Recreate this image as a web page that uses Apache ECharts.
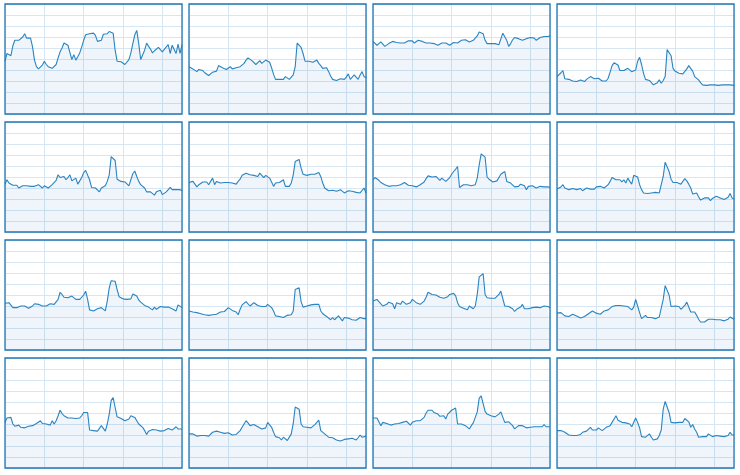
<!DOCTYPE html>
<html>
<head>
<meta charset="utf-8">
<script src="https://cdn.jsdelivr.net/npm/echarts@6/dist/echarts.min.js"></script>
<style>
html,body{margin:0;padding:0;background:#fff;}
#chart{width:740px;height:475px;}
</style>
</head>
<body>
<div id="chart"></div>
<script>
var p1 = [48,55,54,53,62,67,67.5,67,67.5,70,73,69,67.5,69,61,49,43,41,42,44.5,48,45,43,41.5,41.5,42,45,51,56.5,60,64.5,63,62.5,62.5,49.5,54,49,52,55.5,61,67,72,73,73,74,73.5,71.5,66,65,67,72.5,73,73,75,76.5,73.5,58,48,49.5,47.5,46,45,46.5,49.5,55.5,64,72,76,64,49.5,49.5,58,64.5,61.5,59,55.5,57.5,58.5,60.5,62,56.5,58,61,63,55,62.5,61,55,63.5,55,63];
var p2 = [43,41.5,41,42,38.5,40.5,42,39.5,37.5,36.5,35,36.5,38,37.5,39,44,44,42,40.5,40.5,42,43,41,41.5,42,42,43,43.5,46,49,51,49.5,48.5,49,45,46,48.5,46,47.5,49,49,47,42,36,31.5,31.5,31.5,33,31.5,34,33,31.5,33,35.5,43,64.5,64,60.5,55,48,48.5,48,47.5,47,48.5,49,46,44,41.5,41.5,42,38.5,34.5,31.5,31,30.5,31.5,32,31.5,31.5,33.5,36.5,31.5,33.5,35.5,37,31.5,35.5,38.5,34,33];
var p3 = [66,64.5,62.5,64,65.5,64.5,61.5,63,64,65,66,67,65,64.5,64.5,65,64.5,65,66.5,67.5,66.5,64.5,65.5,67,66.5,66,65.5,64.5,64.5,64.5,64,64,63,62.5,64,64.5,64.5,64.5,63,62.5,64,65,66,64.5,65.5,67,67.5,67.5,68.5,65.5,64.5,67,67.5,71,74.5,74,73,67,64,64,64,64,64,64,63,64.5,73.5,74,67,61.5,64,67.5,69.5,69,68.5,68,67,68,68.5,69,69.5,69.5,69,67,68.5,69.5,70.5,70.5,70.5,70.5,71];
var p4 = [34,35.5,37.5,39.5,32,31.5,31.5,31,30,29.5,29.5,29.5,31,30.5,29.5,31.5,33,34,33.5,32,32,32.5,31.5,30,29.5,30,32.5,38,44,46.5,46.5,44.5,39.5,39.5,39.5,39.5,41.5,43,38.5,37.5,40,48,51.5,45,37,31.5,31,30.5,28.5,26.5,25.5,28.5,31,28,30.5,34,58.5,57,53,41.5,39,37.5,37,37,36.5,36,41,44,44,39,34,32.5,31,28.5,26.5,26,26,25,26.5,26,26.5,26.5,26,26,26.5,26.5,26.5,26,26.5,27.5,26];
var p5 = [43.5,47.5,44.5,43,42.5,43,42.5,40,41,42,43,42,40.5,41.5,40.5,41.5,40.5,43,44.5,40,42,42,40,41.5,43,43.5,47,52,49.5,49.5,50.5,47.5,49.5,52,46.5,47.5,49,43.5,46.5,49.5,54,56,55,47.5,40.5,41,40,38.5,36.5,40,41.5,42,46,52,68.5,67,65,48,47.5,46,44.5,45.5,45,42,47.5,53,55.5,50.5,46,43,41.5,40,36.5,36.5,36.5,36.5,33.5,36.5,38,38,34,33.5,36.5,38.5,40.5,38.5,39.5,38.5,39,38.5,37.5];
var p6 = [45,44.5,46,47.5,41,43,44.5,45.5,46,45.5,43,46,49,43,46,46.5,44.5,46,45,43.5,45,45,44.5,44,43.5,46,48,51.5,52,53.5,55,52,53.5,51.5,52.5,50.5,53.5,52,49.5,51.5,52,49,45.5,41.5,44.5,43,45,43.5,47.5,41.5,41.5,41.5,44.5,52,64,65,66,58,52.5,51.5,51.5,52.5,52.5,52.5,52.5,52.5,54,50.5,44.5,40,40.5,37.5,38,38,37.5,37,36.5,38.5,39.5,35.5,37,37.5,39,37,36.5,36,36,35.5,36,40,35.5];
var p7 = [47.5,49.5,49.5,47,45,43.5,43,42,41.5,42,42,42,42,42,43,44.5,45,43.5,42.5,41.5,42,43,41,42.5,43,43.5,45.5,48.5,51,51,50,48.5,50.5,52,47,49,49.5,46,44.5,49.5,52.5,55,57,59.5,40.5,42,43,43,43,43.5,42,41,43,49,61,71,70.5,68,50,48,46.5,45.5,47,46.5,47,52.5,54,55,46,45,44.5,43,41,39.5,41.5,43.5,43.5,42,38.5,41.5,42.5,42,40.5,40,40.5,41.5,41,41,41.5,41,40.5];
var p8 = [39,40,41,43,40,38.5,38.5,39,39.5,39,38.5,39,39.5,37.5,39,40,40,39,38,39,41,42.5,41.5,40.5,40,40,43,46,49.5,49,47.5,46,47.5,45.5,47.5,44.5,49,46,43.5,51.5,52.5,50,43,38.5,35.5,35,35,35,35.5,36,36,35,35.5,37,50.5,63.5,62.5,55,48,45,44.5,45,44.5,43.5,44.5,48.5,46.5,43.5,40,34.5,34,35.5,32,29,29.5,31,31.5,31,28.5,30.5,31.5,32.5,31,31,29.5,29.5,30,31.5,35,31,30];
var p9 = [42.5,42.5,43,44,38.5,38,38.5,39.5,40,40.5,40,39,38,38.5,40,42,41.5,41.5,42,40,40,40,41.5,42,41.5,41.5,41.5,46,52.5,50.5,48,47.5,47.5,47,49,47.5,46,44.5,46,47.5,50,53.5,46,36.5,35,35.5,37,37.5,38,38.5,38,35.5,44.5,56.5,63,63,62.5,55,48.5,47,46.5,46,46,46,46.5,51,50.5,49,45.5,43.5,43,40.5,40,39,37.5,36.5,39,37,38.5,39.5,39,39,38.5,39,38.5,37.5,36.5,35.5,41,39.5,38.5];
var p10 = [35.5,37,34.5,34,34,33.5,33,32.5,32,32,31.5,32,32,32.5,32.5,34,34.5,34.5,35,35,38.5,38,36,34.5,34.5,32,37,41,42.5,44,45.5,40,41.5,43,41.5,40.5,39.5,39.5,39.5,39.5,41.5,43,38.5,35.5,31,30.5,30.5,30.5,29.5,30,31.5,32,32,35.5,55,56.5,56.5,44,39,39,40,40,41,39.5,41.5,43,41.5,35.5,33,31.5,30.5,29,27.5,29.5,27.5,29,31,30.5,26.5,29.5,29.5,29,28,27.5,27,27,28,29.5,28,28.5,28.5];
var p11 = [44.5,45,46,45,42,40,39,41.5,43.5,44,42,37.5,43,44.5,41.5,44.5,43,41.5,41.5,43,46,44.5,43,41.5,41.5,42,44.5,48,52.5,51.5,50.5,52,50,48.5,48,47.5,47,47.5,48.5,50.5,52,51.5,49.5,43,39.5,38,38,38.5,36.5,40,39.5,37.5,40,50.5,66.5,68,69.5,50.5,47.5,47.5,47,47,47,47.5,50.5,53.5,54,40,40,39.5,38.5,37.5,35,37,38.5,39,41.5,37.5,37.5,37.5,38,38.5,39.5,39,39,38.5,39,40,40,39.5,38.5];
var p12 = [33.5,34,34,32.5,31,29.5,30.5,31.5,32.5,32.5,31,29.5,29,29.5,30.5,32,33,34.5,35.5,34,33.5,33.5,32.5,34,35.5,35.5,36.5,37.5,39.5,40.5,40.5,40.5,40.5,41.5,40,40.5,39.5,38.5,36.5,39,46,40,34,28.5,30,31.5,29.5,31,29.5,31,28.5,29.5,30,31.5,46,58.5,59.5,50,39.5,39.5,40,41.5,39.5,37,37.5,40.5,43.5,44,34.5,34.5,34.5,31.5,28,25.5,25.5,25.5,26.5,28,29.5,28,28.5,27.5,28,27.5,27.5,26.5,26.5,28,30,31.5,28];
var p13 = [41.5,45.5,46,46,40,38,37.5,39,37,35.5,36.5,37,38,37.5,38.5,39.5,40.5,42,43,40.5,41.5,40,41.5,39,43,40,43,47.5,52.5,49.5,47.5,46.5,45.5,45.5,45.5,44.5,45,44.5,45.5,47.5,50.5,51.5,50.5,34.5,34.5,34,33.5,33.5,34,38.5,37,33.5,40,49,61.5,64,55,46.5,46,45,43.5,43,43,44.5,47.5,47.5,46,43,40,38.5,37,34,30.5,33.5,35,35,34.5,34.5,34.5,33.5,32.5,34,35.5,36,35.5,34.5,34.5,37.5,35.5,35,35.5];
var p14 = [31,32.5,31,30,29,29,29.5,31,29.5,28.5,29,30.5,32.5,33.5,33.5,33,32.5,31,31.5,31.5,32,31,30,30,30.5,31.5,34,37,40,43,41,38.5,37.5,39.5,38.5,37.5,36.5,35.5,35.5,36.5,41.5,43,37,32.5,28.5,28.5,27.5,25.5,28,27.5,25,26.5,31,40.5,55.5,56.5,53.5,40,37.5,37,37,37,36.5,36.5,39.5,41.5,43.5,34,32.5,31,29.5,28,26.5,27.5,28.5,25.5,24.5,24.5,25,26,26.5,26.5,26.5,27,27,25.5,27.5,30,28,29.5,29];
var p15 = [45.5,45.5,45.5,46,38.5,41.5,43,40.5,39.5,39,40,40,40,40.5,40,41.5,42,42.5,42,39,41.5,43,43,43,43,43.5,46,50,52.5,53.5,52.5,50.5,50,49,47,45.5,47.5,44.5,49,50.5,52.5,53.5,54.5,40,41,40,39,38.5,37.5,35.5,38.5,41,40,51,63.5,65.5,66.5,51.5,49,48,47.5,47,46.5,47.5,49,51,51.5,41.5,42,42,41.5,38.5,35.5,37,38.5,38,38.5,40,36.5,36.5,37,38,37.5,37,37.5,37,37.5,39.5,37.5,37.5,37.5];
var p16 = [34,33.5,34,35.5,32.5,31,30,29.5,29.5,30,29.5,29.5,30.5,32.5,33.5,33.5,34.5,37,34.5,34,34.5,36.5,35.5,34,35.5,37,38,38.5,41.5,44.5,47.5,43.5,43,41.5,41.5,41,41.5,40,37.5,38.5,45.5,41.5,36.5,28.5,28,28,28.5,31,28,25.5,25,26.5,29.5,34.5,53.5,60.5,60,50.5,41.5,41,41,41.5,41.5,41,41.5,45,44,42,37,39.5,35.5,32.5,28,28,28.5,27,28.5,31,29.5,28.5,28,29.5,29.5,29,28.5,28.5,28,29.5,32.5,30,30];

var panels = [p1,p2,p3,p4,p5,p6,p7,p8,p9,p10,p11,p12,p13,p14,p15,p16];

var colLeft = [5, 189, 373, 557];
var rowTop = [4, 122, 240, 358];
var W = 177, H = 110;

var grids = [], xAxes = [], yAxes = [], series = [];
panels.forEach(function (vals, k) {
  var r = Math.floor(k / 4), c = k % 4;
  grids.push({
    left: colLeft[c], top: rowTop[r], width: W, height: H,
    show: true, z: 10, borderColor: '#1f77b4', borderWidth: 1.3, backgroundColor: 'transparent'
  });
  xAxes.push({
    type: 'value', gridIndex: k, min: 0, max: 90, interval: 20,
    axisLine: {show: false}, axisTick: {show: false}, axisLabel: {show: false},
    splitLine: {show: true, lineStyle: {color: '#d6e6f3', width: 1}}
  });
  yAxes.push({
    type: 'value', gridIndex: k, min: 0, max: 100, interval: 10,
    axisLine: {show: false}, axisTick: {show: false}, axisLabel: {show: false},
    splitLine: {show: true, lineStyle: {color: '#d6e6f3', width: 1}}
  });
  series.push({
    type: 'line', xAxisIndex: k, yAxisIndex: k,
    data: vals.map(function (v, i) { return [i, v]; }),
    showSymbol: false, symbol: 'none',
    lineStyle: {color: '#2a84c0', width: 1.1},
    itemStyle: {color: '#2a84c0'},
    areaStyle: {color: 'rgba(31,119,180,0.07)', opacity: 1},
    z: 3
  });
});

var chart = echarts.init(document.getElementById('chart'), null, {renderer: 'canvas'});
chart.setOption({
  animation: false,
  backgroundColor: '#ffffff',
  grid: grids,
  xAxis: xAxes,
  yAxis: yAxes,
  series: series
});
</script>
</body>
</html>
